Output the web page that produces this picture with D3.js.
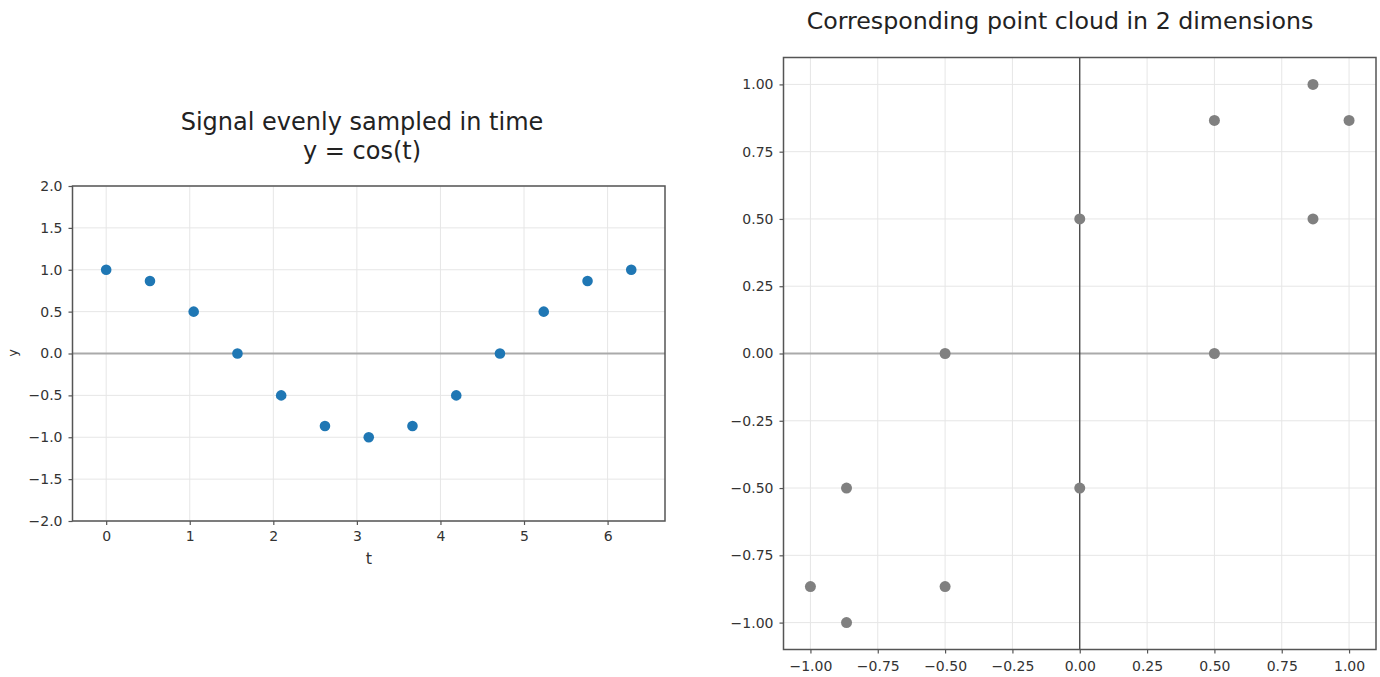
<!DOCTYPE html>
<html>
<head>
<meta charset="utf-8">
<script src="https://cdn.jsdelivr.net/npm/d3@7"></script>
<style>
  html, body { margin: 0; padding: 0; background: #fff; }
  svg { display: block; font-family: "DejaVu Sans", sans-serif; }
</style>
</head>
<body>
<svg id="chart" width="1380" height="677"></svg>
<script>
// ---- Data ----
const tValues = [0, 0.524, 1.047, 1.571, 2.094, 2.618, 3.142, 3.665, 4.189, 4.712, 5.236, 5.760, 6.283];
const yValues = [1.0, 0.866, 0.5, 0.0, -0.5, -0.866, -1.0, -0.866, -0.5, 0.0, 0.5, 0.866, 1.0];

const cloudX = [1.0, 0.866, 0.5, 0.0, -0.5, -0.866, -1.0, -0.866, -0.5, 0.0, 0.5, 0.866];
const cloudY = [0.866, 0.5, 0.0, -0.5, -0.866, -1.0, -0.866, -0.5, 0.0, 0.5, 0.866, 1.0];

const leftXTicks = [0, 1, 2, 3, 4, 5, 6];
const leftYTicks = [-2.0, -1.5, -1.0, -0.5, 0.0, 0.5, 1.0, 1.5, 2.0];
const rightTicks = [-1.0, -0.75, -0.5, -0.25, 0.0, 0.25, 0.5, 0.75, 1.0];

const leftTitle = ["Signal evenly sampled in time", "y = cos(t)"];
const rightTitle = "Corresponding point cloud in 2 dimensions";
const leftXLabel = "t";
const leftYLabel = "y";

// ---- Drawing ----
const svg = d3.select("#chart");
const minus = s => s.replace("-", "\u2212");
const tickFont = 14;
const tickColor = "#333";
const gridColor = "#e6e6e6";
const spineColor = "#555";

function drawPanel(cfg) {
  const g = svg.append("g");
  const x = d3.scaleLinear().domain(cfg.xDomain).range([cfg.left, cfg.right]);
  const y = d3.scaleLinear().domain(cfg.yDomain).range([cfg.bottom, cfg.top]);

  // grid
  g.append("g").selectAll("line").data(cfg.xTicks).join("line")
    .attr("x1", d => x(d)).attr("x2", d => x(d))
    .attr("y1", cfg.top).attr("y2", cfg.bottom)
    .attr("stroke", gridColor).attr("stroke-width", 1);
  g.append("g").selectAll("line").data(cfg.yTicks).join("line")
    .attr("y1", d => y(d)).attr("y2", d => y(d))
    .attr("x1", cfg.left).attr("x2", cfg.right)
    .attr("stroke", gridColor).attr("stroke-width", 1);

  // zero lines
  g.append("line")
    .attr("x1", cfg.left).attr("x2", cfg.right)
    .attr("y1", y(0)).attr("y2", y(0))
    .attr("stroke", "#aaaaaa").attr("stroke-width", 2);
  if (cfg.vZero) {
    g.append("line")
      .attr("x1", x(0)).attr("x2", x(0))
      .attr("y1", cfg.top).attr("y2", cfg.bottom)
      .attr("stroke", "#333").attr("stroke-width", 1.2);
  }

  // axes
  const xAxis = d3.axisBottom(x).tickValues(cfg.xTicks).tickSize(4).tickPadding(cfg.xPad)
    .tickFormat(d => minus(cfg.xFmt(d)));
  const yAxis = d3.axisLeft(y).tickValues(cfg.yTicks).tickSize(4).tickPadding(6)
    .tickFormat(d => minus(cfg.yFmt(d)));
  const gx = g.append("g").attr("transform", `translate(0,${cfg.bottom})`).call(xAxis);
  const gy = g.append("g").attr("transform", `translate(${cfg.left},0)`).call(yAxis);
  [gx, gy].forEach(a => {
    a.select(".domain").remove();
    a.selectAll(".tick line").attr("stroke", spineColor).attr("stroke-width", 1.2);
    a.selectAll(".tick text").attr("fill", tickColor)
      .style("font-size", tickFont + "px").style("font-family", "DejaVu Sans, sans-serif");
  });

  // frame
  g.append("rect")
    .attr("x", cfg.left).attr("y", cfg.top)
    .attr("width", cfg.right - cfg.left).attr("height", cfg.bottom - cfg.top)
    .attr("fill", "none").attr("stroke", spineColor).attr("stroke-width", 1.5);

  // points
  g.append("g").selectAll("circle").data(cfg.points).join("circle")
    .attr("cx", d => x(d[0])).attr("cy", d => y(d[1]))
    .attr("r", cfg.r).attr("fill", cfg.color);
  return { g, x, y };
}

// Left panel
drawPanel({
  left: 72.5, right: 665, top: 186, bottom: 521,
  xDomain: [-0.403, 6.687], yDomain: [-2, 2],
  xTicks: leftXTicks, yTicks: leftYTicks,
  xFmt: d3.format("d"), yFmt: d3.format(".1f"), xPad: 6,
  points: tValues.map((t, i) => [t, yValues[i]]),
  r: 5.3, color: "#1f77b4", vZero: false
});

// Right panel
drawPanel({
  left: 783.5, right: 1376, top: 57.5, bottom: 649.5,
  xDomain: [-1.1, 1.1], yDomain: [-1.1, 1.1],
  xTicks: rightTicks, yTicks: rightTicks,
  xFmt: d3.format(".2f"), yFmt: d3.format(".2f"), xPad: 8,
  points: cloudX.map((v, i) => [v, cloudY[i]]),
  r: 5.5, color: "#808080", vZero: true
});

// Titles and labels
svg.append("text").attr("x", 362).attr("y", 130)
  .attr("text-anchor", "middle").attr("fill", "#222")
  .style("font-size", "24px").text(leftTitle[0]);
svg.append("text").attr("x", 362).attr("y", 159)
  .attr("text-anchor", "middle").attr("fill", "#222")
  .style("font-size", "24px").text(leftTitle[1]);
svg.append("text").attr("x", 1060).attr("y", 29)
  .attr("text-anchor", "middle").attr("fill", "#222")
  .style("font-size", "23.7px").text(rightTitle);

svg.append("text").attr("x", 369).attr("y", 564)
  .attr("text-anchor", "middle").attr("fill", tickColor)
  .style("font-size", "16px").text(leftXLabel);
svg.append("text")
  .attr("transform", "translate(17,353) rotate(-90)")
  .attr("text-anchor", "middle").attr("fill", tickColor)
  .style("font-size", "13px").text(leftYLabel);
</script>
</body>
</html>
